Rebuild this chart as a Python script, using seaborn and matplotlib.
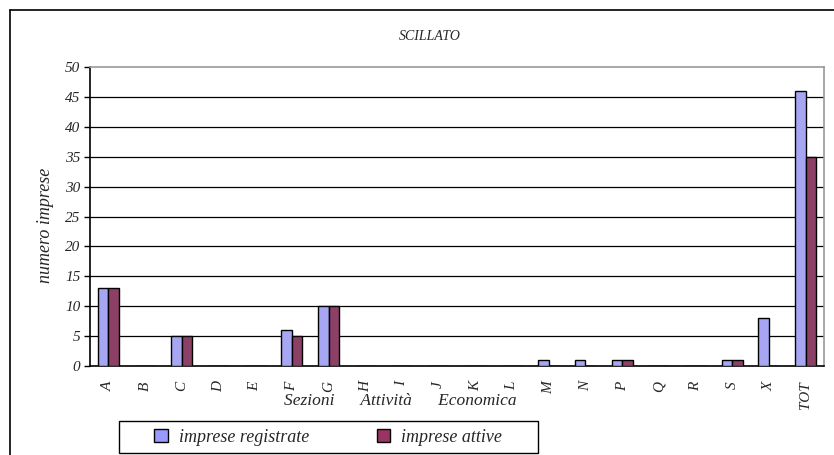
import matplotlib
matplotlib.use("Agg")
import matplotlib.pyplot as plt
import seaborn as sns
import pandas as pd
from matplotlib.lines import Line2D
from matplotlib.patches import Rectangle

categories = ["A", "B", "C", "D", "E", "F", "G", "H", "I", "J", "K", "L",
              "M", "N", "P", "Q", "R", "S", "X", "TOT"]
registrate = [13, 0, 5, 0, 0, 6, 10, 0, 0, 0, 0, 0, 1, 1, 1, 0, 0, 1, 8, 46]
attive = [13, 0, 5, 0, 0, 5, 10, 0, 0, 0, 0, 0, 0, 0, 1, 0, 0, 1, 0, 35]
series_names = ["imprese registrate", "imprese attive"]
yticks = [0, 5, 10, 15, 20, 25, 30, 35, 40, 45, 50]
colors = ["#9999FF", "#993366"]

df = pd.DataFrame({
    "cat": categories * 2,
    "val": registrate + attive,
    "serie": [series_names[0]] * len(categories) + [series_names[1]] * len(categories),
})

sns.set_style("white")
plt.rcParams["font.family"] = ["Liberation Serif", "DejaVu Serif"]
plt.rcParams["font.style"] = "italic"

W, H = 834, 455
fig = plt.figure(figsize=(W / 100, H / 100), dpi=100)
ax = fig.add_axes([90 / W, 1 - 366 / H, (824 - 90) / W, (366 - 67) / H])

sns.barplot(data=df, x="cat", y="val", hue="serie", order=categories,
            hue_order=series_names, palette=colors,
            edgecolor="black", linewidth=1.0, width=0.57, ax=ax,
            legend=False, zorder=3)

ax.set_xlim(-0.5, len(categories) - 0.5)
ax.set_ylim(0, 50)
ax.set_yticks(yticks)
ax.set_yticklabels([str(v) for v in yticks], fontsize=11, style="italic")
for y in yticks[1:-1]:
    ax.axhline(y, color="black", linewidth=0.9, zorder=1)

ax.set_xticks(range(len(categories)))
ax.set_xticklabels(categories, rotation=90, fontsize=11, style="italic")
ax.set_xticks([i - 0.5 for i in range(len(categories) + 1)], minor=True)
ax.tick_params(axis="x", which="major", length=0, pad=11)
ax.tick_params(axis="x", which="minor", length=4, width=1, color="black", direction="out")
ax.tick_params(axis="y", length=4, width=1, color="black", direction="out", left=True, pad=3)

for s in ["left", "bottom"]:
    ax.spines[s].set_color("black")
    ax.spines[s].set_linewidth(1.2)
for s in ["top", "right"]:
    ax.spines[s].set_color("#999999")
    ax.spines[s].set_linewidth(1.2)
    ax.spines[s].set_visible(True)

ax.set_xlabel("")
ax.set_ylabel("numero imprese", fontsize=13, style="italic")
ax.yaxis.set_label_coords((54 - 90) / (824 - 90), (366 - 225) / (366 - 67))

fig.text(400 / W, 1 - 401 / H, "Sezioni      Attività      Economica",
         ha="center", va="center", fontsize=12.5, style="italic")
fig.text(430 / W, 1 - 37 / H, "SCILLATO", ha="center", va="center",
         fontsize=10, style="italic")

# outer chart frame (top and left edges visible)
fig.add_artist(Line2D([10 / W, 1.0], [1 - 10 / H, 1 - 10 / H],
                      color="black", linewidth=1.2, transform=fig.transFigure))
fig.add_artist(Line2D([10 / W, 10 / W], [0.0, 1 - 10 / H],
                      color="black", linewidth=1.2, transform=fig.transFigure))

# legend frame
fig.add_artist(Rectangle((119 / W, 1 - 453 / H), (538 - 119) / W, 32 / H,
                         transform=fig.transFigure, facecolor="white",
                         edgecolor="black", linewidth=1.0, zorder=4))

handles = [plt.Rectangle((0, 0), 1, 1, facecolor=c, edgecolor="black", linewidth=1.0)
           for c in colors]
leg = fig.legend(handles, series_names, loc="center",
                 bbox_to_anchor=(328 / W, 1 - 437 / H), ncol=2,
                 frameon=False, handlelength=0.75, handleheight=0.75,
                 columnspacing=3.75, borderpad=0.2, handletextpad=0.6,
                 prop={"style": "italic", "size": 13, "family": ["Liberation Serif"]})
leg.set_zorder(5)

fig.savefig("out.png", dpi=100)
